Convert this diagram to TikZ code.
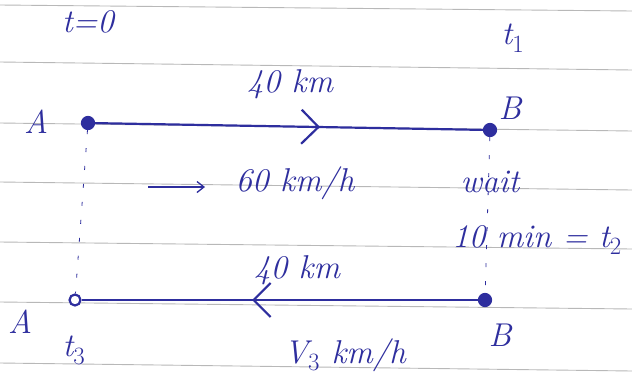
\documentclass[tikz,border=0pt]{standalone}
\usepackage{fontspec}
\setmainfont{Latin Modern Roman}
\usetikzlibrary{arrows.meta,decorations.markings}
\definecolor{ink}{HTML}{2E2E9E}
\definecolor{rule}{HTML}{B8B8B8}
\tikzset{
  ruled/.style={draw=rule, line width=0.9pt},
  dotfill/.style={circle, draw=ink, fill=ink, line width=1.2pt, minimum size=13pt, inner sep=0pt},
  dotopen/.style={circle, draw=ink, fill=white, line width=2.2pt, minimum size=11pt, inner sep=0pt},
  road/.style={draw=ink, line width=2.2pt},
  guide/.style={draw=ink, line width=0.8pt, dash pattern=on 4pt off 14pt},
  lbl/.style={text=ink, font=\itshape\fontsize{33}{36}\selectfont, inner sep=1pt},
  fwd/.style={postaction={decorate, decoration={markings,
      mark=at position #1 with {\arrow[ink, line width=2.2pt]{Straight Barb[length=17pt,width=34pt]}}}}},
}
\begin{document}
\begin{tikzpicture}[x=1pt,y=-1pt]
\useasboundingbox (0,0) rectangle (632,381);
\fill[white] (0,0) rectangle (632,381);
% ruled paper lines
\draw[ruled] (0,5) -- (632,11);
\draw[ruled] (0,62) -- (632,70);
\draw[ruled] (0,123) -- (632,131);
\draw[ruled] (0,182) -- (632,190);
\draw[ruled] (0,242) -- (632,249);
\draw[ruled] (0,302) -- (632,309);
\draw[ruled] (0,363) -- (632,371);

% dots
\node[dotfill] (A1) at (88,123) {};
\node[dotfill] (B1) at (490,130) {};
\node[dotopen] (A2) at (75,300) {};
\node[dotfill] (B2) at (485,300) {};

% roads
\draw[road, fwd=0.58] (A1) -- (B1);
\draw[road, fwd=0.57] (B2) -- (A2);

% dashed guides
\draw[guide] (A1) -- (A2);
\draw[guide] (B1) -- (B2);

% labels
\node[lbl] (t0) at (88,22) {t=0};
\node[lbl] (t1) at (513,38) {t$_1$};
\node[lbl] (d1) at (290,84) {40 km};
\node[lbl] (la1) at (36,122) {A};
\node[lbl] (lb1) at (510,108) {B};
\node[lbl] (v1) at (295,183) {60 km/h};
\coordinate (v1s) at (148,187);
\coordinate (v1e) at (205,187);
\draw[draw=ink, line width=1.3pt, -{Straight Barb[length=7pt,width=11pt]}] (v1s) -- (v1e);
\node[lbl] (w) at (490,182) {wait};
\node[lbl] (ten) at (537,240) {10 min = t$_2$};
\node[lbl] (d2) at (297,270) {40 km};
\node[lbl] (la2) at (20,322) {A};
\node[lbl] (t3) at (74,350) {t$_3$};
\node[lbl] (v3) at (345,355) {V$_3$ km/h};
\node[lbl] (lb2) at (500,335) {B};
\end{tikzpicture}
\end{document}
